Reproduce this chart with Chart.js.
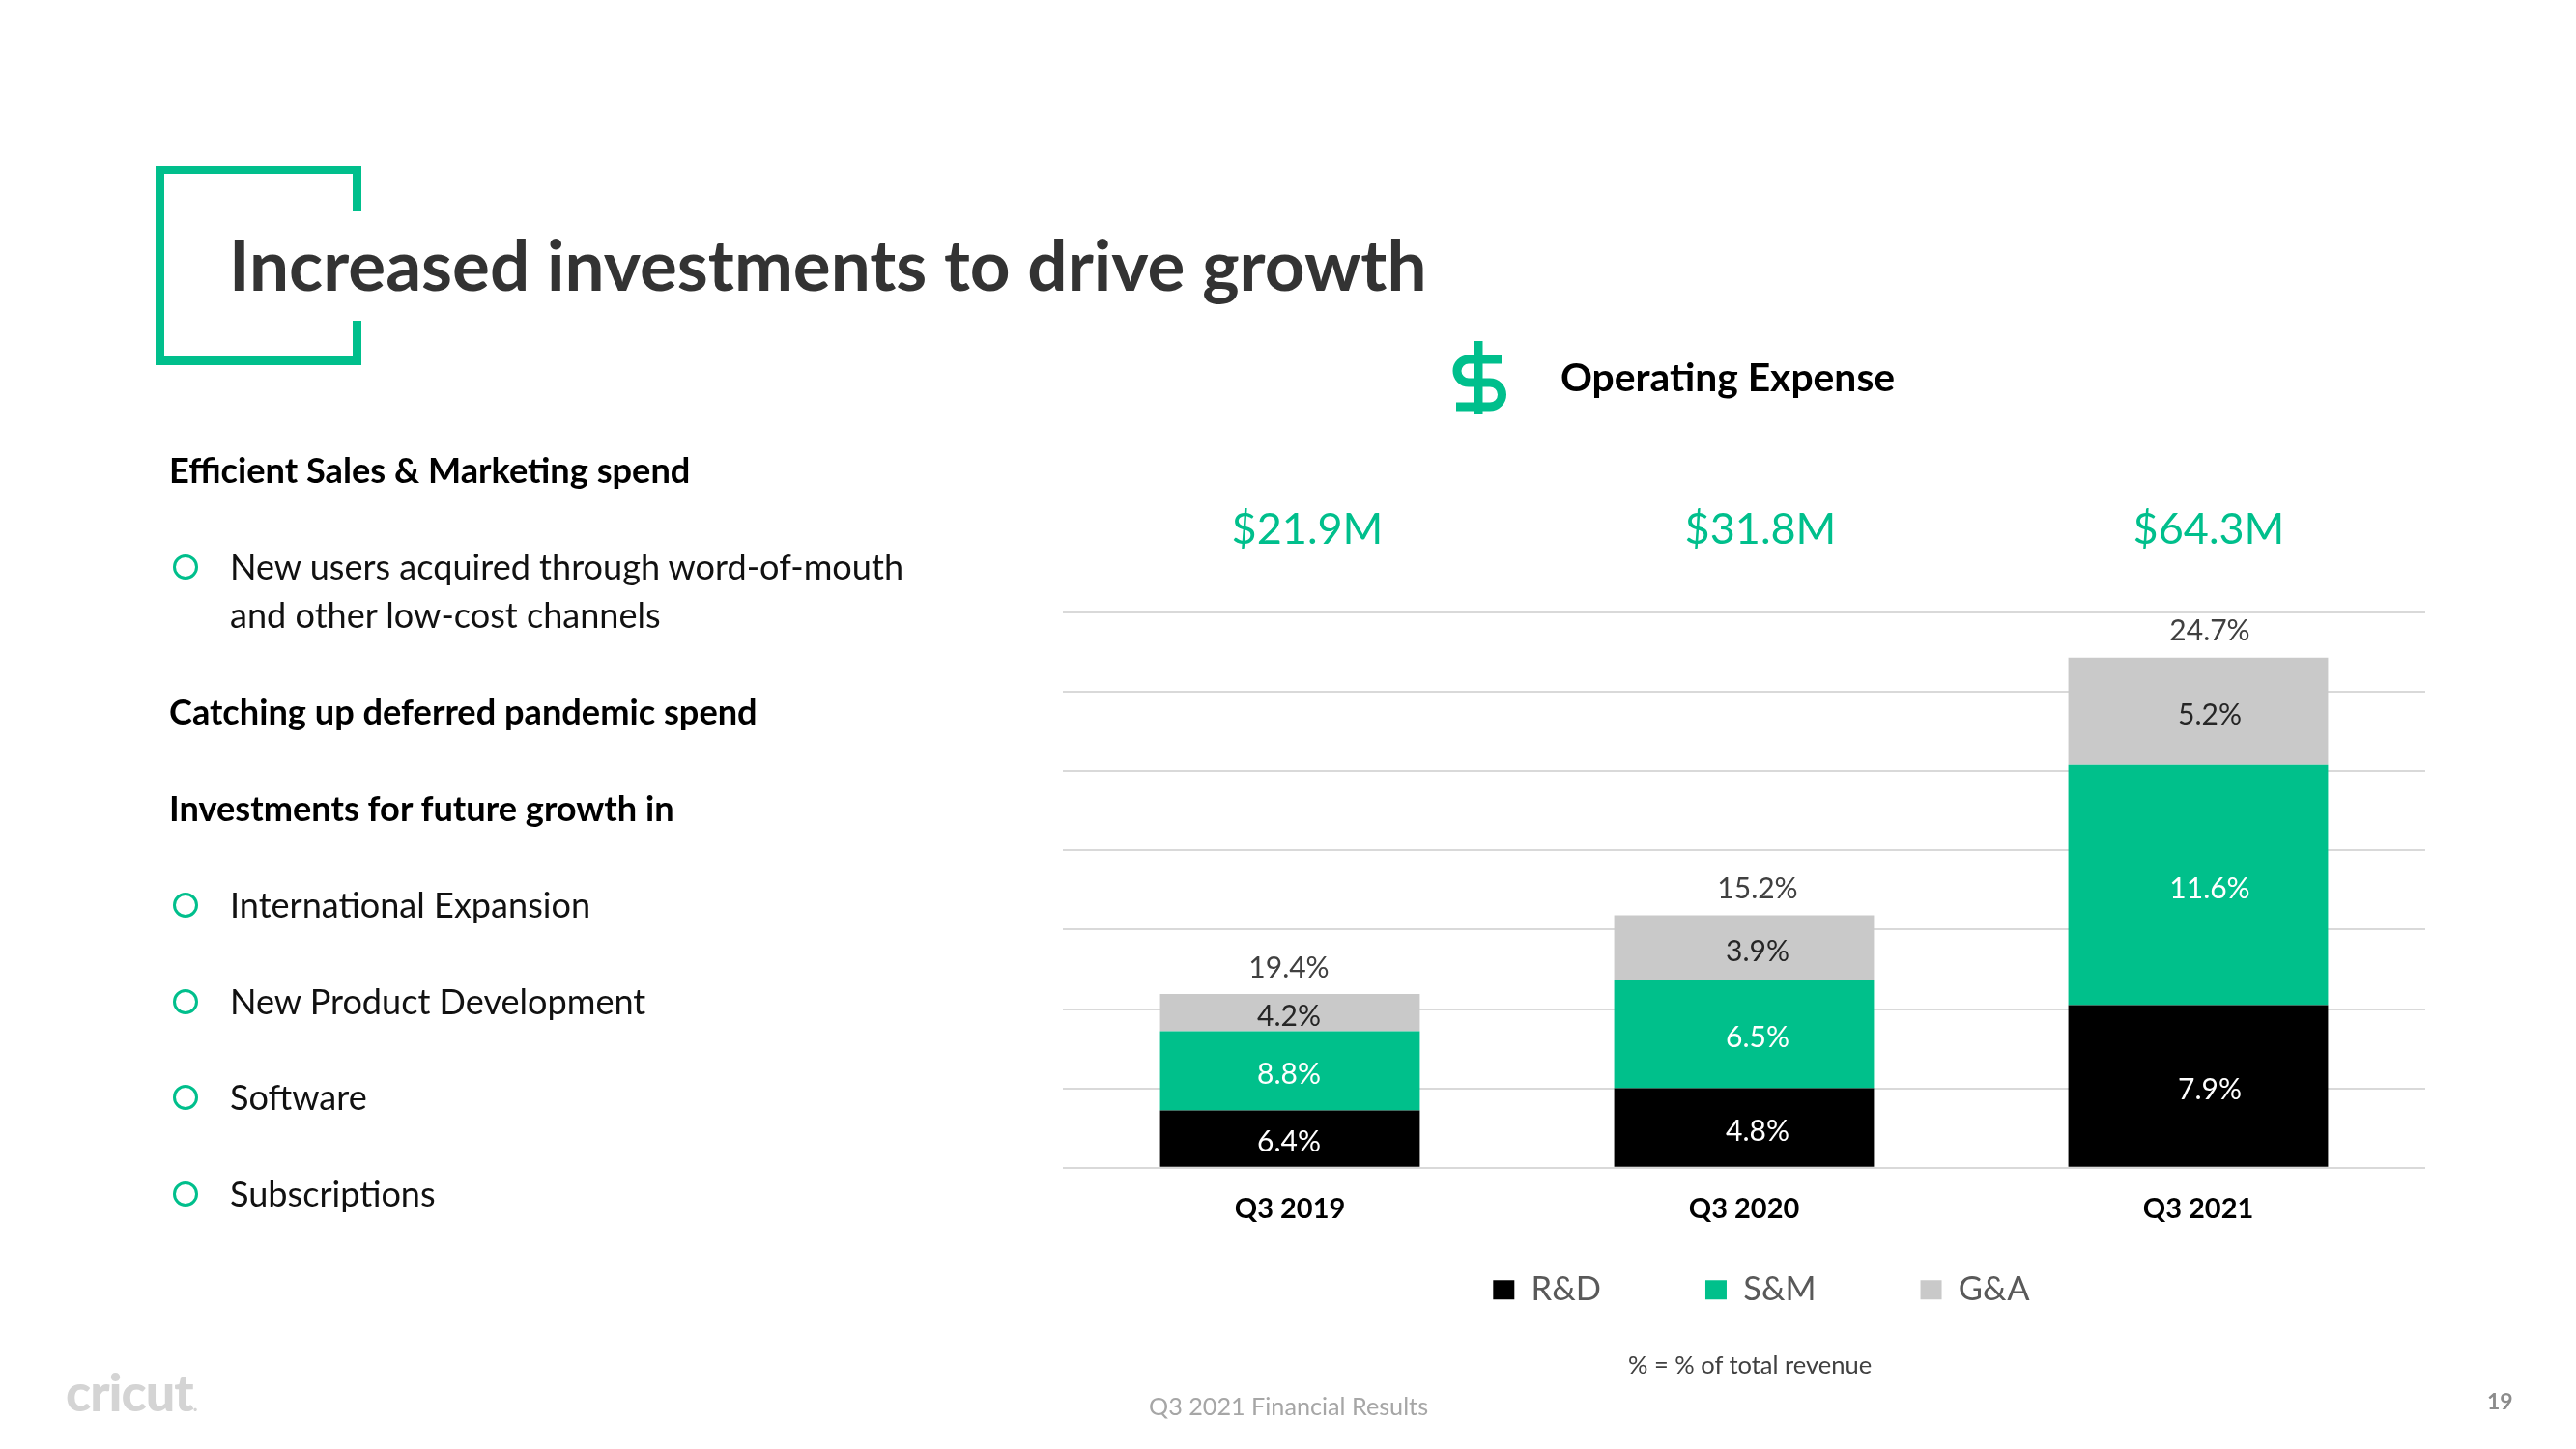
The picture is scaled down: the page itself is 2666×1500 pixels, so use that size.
<!DOCTYPE html>
<html>
<head>
<meta charset="utf-8">
<title>Increased investments to drive growth</title>
<script src="https://cdn.jsdelivr.net/npm/chart.js@4"></script>
<style>
  html, body { margin: 0; padding: 0; background: #fff; }
  body { position: relative; width: 2666px; height: 1500px; overflow: hidden; font-family: Lato, sans-serif; color: #000; }
  #chart { position: absolute; left: 0; top: 0; }
  .txt { position: absolute; white-space: nowrap; line-height: 1; }
  .head { left: 175px; font-size: 36.2px; font-weight: 700; }
  .item { left: 238px; font-size: 36.1px; color: #111; }
  .dot { position: absolute; left: 179px; width: 20px; height: 20px; border: 3px solid #00bf8c; border-radius: 50%; }
  .brk { position: absolute; background: #00bf8c; }
  .total { font-size: 45px; color: #00bf8c; transform: translateX(-50%); }
</style>
</head>
<body>
<canvas id="chart" width="2666" height="1500"></canvas>

<!-- title bracket -->
<div class="brk" style="left:161px;top:172px;width:213px;height:8px"></div>
<div class="brk" style="left:161px;top:369px;width:213px;height:9px"></div>
<div class="brk" style="left:161px;top:172px;width:9px;height:206px"></div>
<div class="brk" style="left:365px;top:172px;width:9px;height:46px"></div>
<div class="brk" style="left:365px;top:332px;width:9px;height:46px"></div>

<div class="txt" style="left:237px;top:237px;font-size:72.8px;font-weight:700;color:#333">Increased investments to drive growth</div>

<!-- left column -->
<div class="txt head" style="top:468px">Efficient Sales &amp; Marketing spend</div>
<div class="dot" style="top:574px"></div>
<div class="txt item" style="top:568px">New users acquired through word-of-mouth</div>
<div class="txt item" style="top:618px">and other low-cost channels</div>
<div class="txt head" style="top:718px">Catching up deferred pandemic spend</div>
<div class="txt head" style="top:818px">Investments for future growth in</div>
<div class="dot" style="top:924px"></div>
<div class="txt item" style="top:918px">International Expansion</div>
<div class="dot" style="top:1024px"></div>
<div class="txt item" style="top:1018px">New Product Development</div>
<div class="dot" style="top:1123px"></div>
<div class="txt item" style="top:1117px">Software</div>
<div class="dot" style="top:1223px"></div>
<div class="txt item" style="top:1217px">Subscriptions</div>

<!-- dollar icon + heading -->
<svg style="position:absolute;left:1490px;top:345px" width="80" height="95" viewBox="0 0 80 95">
  <path d="M40 8V84" stroke="#00bf8c" stroke-width="9" fill="none"/>
  <path d="M64 27H30A12 12 0 0 0 30 51H52A12.5 12.5 0 0 1 52 76H17" stroke="#00bf8c" stroke-width="9" fill="none"/>
</svg>
<div class="txt" style="left:1615px;top:370px;font-size:40.8px;font-weight:700">Operating Expense</div>

<div id="totals"></div>

<!-- footer -->
<div class="txt" style="left:1685px;top:1400px;font-size:25.5px;color:#404040">% = % of total revenue</div>
<div class="txt" style="left:1189px;top:1443px;font-size:25.2px;color:#a6a6a6">Q3 2021 Financial Results</div>
<div class="txt" style="left:2574px;top:1439px;font-size:23px;font-weight:700;color:#8c8c8c">19</div>
<div class="txt" style="left:68px;top:1414px;font-size:54px;font-weight:900;color:#d4d4d4;letter-spacing:-1px">cricut<span style="font-size:20px">.</span></div>

<script>
  const categories = ['Q3 2019', 'Q3 2020', 'Q3 2021'];
  // bar heights, $M
  const rdValues = [7.2, 10.0, 20.5];
  const smValues = [10.0, 13.6, 30.3];
  const gaValues = [4.7, 8.2, 13.5];
  // printed labels, % of total revenue
  const rdLabels = ['6.4%', '4.8%', '7.9%'];
  const smLabels = ['8.8%', '6.5%', '11.6%'];
  const gaLabels = ['4.2%', '3.9%', '5.2%'];
  const totalLabels = ['19.4%', '15.2%', '24.7%'];
  const totalSpend = ['$21.9M', '$31.8M', '$64.3M'];
  const yTicks = [0, 10, 20, 30, 40, 50, 60, 70];

  const GREEN = '#00c08b';
  const labelFont = '400 30px Lato, sans-serif';
  // the slide's labels sit a little right of the bars in the last two columns
  const labelShift = [-1, 14, 12];
  const totalCentres = [1353, 1822, 2286];

  document.getElementById('totals').innerHTML = totalSpend.map((t, i) =>
    `<div class="txt total" style="left:${totalCentres[i]}px;top:524px">${t}</div>`).join('');

  /* percent labels on the segments and above the stacks */
  const barLabels = {
    id: 'barLabels',
    afterDatasetsDraw(chart) {
      const ctx = chart.ctx;
      ctx.save();
      ctx.font = labelFont;
      ctx.textAlign = 'center';
      ctx.textBaseline = 'middle';
      chart.data.datasets.forEach((ds, d) => {
        chart.getDatasetMeta(d).data.forEach((bar, i) => {
          ctx.fillStyle = ds.labelColor;
          ctx.fillText(ds.labelTexts[i], bar.x + labelShift[i], (bar.y + bar.base) / 2 + 4);
          if (d === chart.data.datasets.length - 1) {
            ctx.fillStyle = '#404040';
            ctx.fillText(totalLabels[i], bar.x + labelShift[i], bar.y - 27);
          }
        });
      });
      ctx.restore();
    }
  };

  /* legend sits off-centre and lower than the default slot */
  const legendPlace = {
    id: 'legendPlace',
    afterLayout(chart) {
      const lg = chart.legend;
      lg.left += 18;
      lg.right += 18;
      lg.top = 1318 - lg.options.labels.padding;
    }
  };

  new Chart(document.getElementById('chart'), {
    type: 'bar',
    data: {
      labels: categories,
      datasets: [
        { label: 'R&D', data: rdValues, backgroundColor: '#000000', labelTexts: rdLabels, labelColor: '#ffffff' },
        { label: 'S&M', data: smValues, backgroundColor: GREEN, labelTexts: smLabels, labelColor: '#ffffff' },
        { label: 'G&A', data: gaValues, backgroundColor: '#c9c9c9', labelTexts: gaLabels, labelColor: '#262626' }
      ]
    },
    options: {
      responsive: false,
      animation: false,
      devicePixelRatio: 1,
      layout: { padding: { left: 1100, right: 156, top: 634, bottom: 60 } },
      datasets: { bar: { categoryPercentage: 1, barPercentage: 0.572, borderWidth: 0 } },
      plugins: {
        title: { display: false },
        tooltip: { enabled: false },
        legend: {
          position: 'bottom',
          labels: {
            boxWidth: 22,
            boxHeight: 20,
            padding: 108,
            color: '#595959',
            font: { family: 'Lato, sans-serif', size: 34.5 }
          }
        }
      },
      scales: {
        x: {
          stacked: true,
          grid: { display: false },
          border: { display: false },
          ticks: { color: '#000', padding: 18, maxRotation: 0, font: { family: 'Lato, sans-serif', size: 29, weight: '700' } }
        },
        y: {
          stacked: true,
          min: yTicks[0],
          max: yTicks[yTicks.length - 1],
          grid: { color: '#d9d9d9', lineWidth: 2, drawTicks: false },
          border: { display: false },
          ticks: { display: false, stepSize: 10 }
        }
      }
    },
    plugins: [barLabels, legendPlace]
  });
</script>
</body>
</html>
